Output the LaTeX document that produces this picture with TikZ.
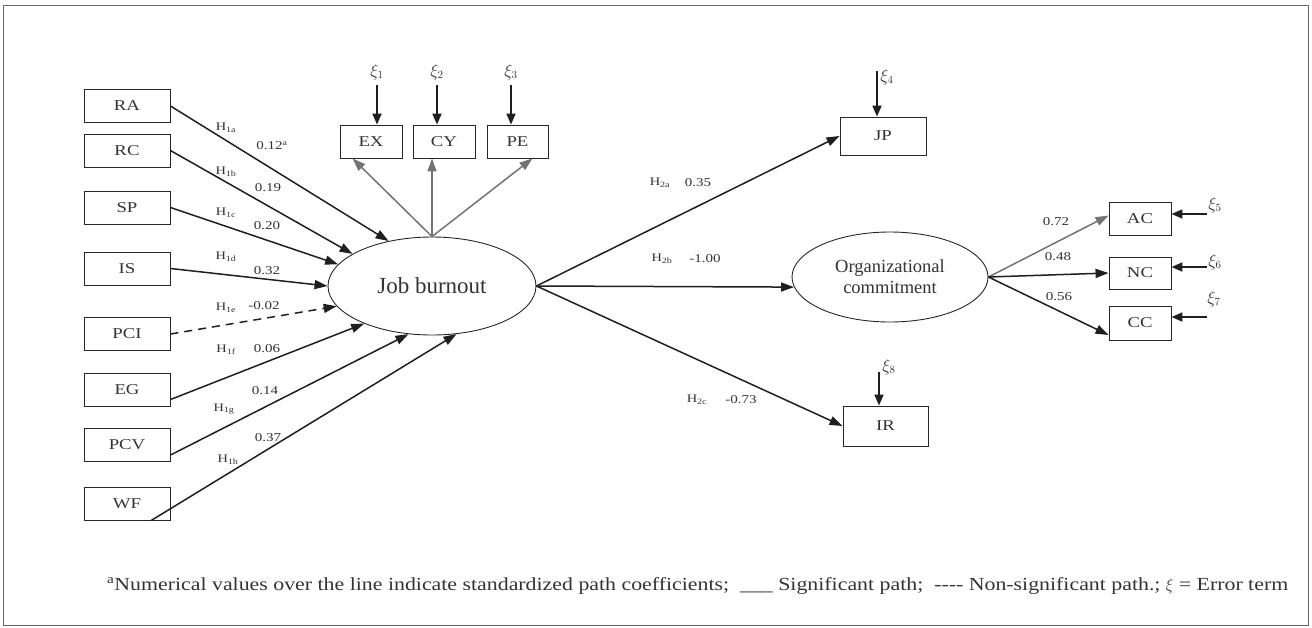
\documentclass[tikz,border=0pt]{standalone}
\usepackage{fontspec}
\setmainfont{Liberation Serif}[FakeStretch=1.25]
\newfontfamily\plainserif{Liberation Serif}
\usetikzlibrary{arrows.meta,shapes.geometric,calc}
\begin{document}
\begin{tikzpicture}[x=1pt,y=-1pt,
  every node/.style={inner sep=0pt, text=black!80},
  box/.style={draw=black!85, line width=0.9pt, minimum width=86pt, minimum height=33pt, font=\fontsize{15}{15}\selectfont},
  sbox/.style={box, minimum width=62pt},
  latent/.style={draw=black!85, line width=0.9pt, ellipse},
  arr/.style={line width=1.5pt, draw=black!88, -{Triangle[length=13pt,width=9pt]}},
  garr/.style={arr, draw=black!55},
  darr/.style={arr, dash pattern=on 8pt off 6pt},
  err/.style={line width=1.9pt, draw=black!88, -{Triangle[length=11pt,width=9pt]}},
  num/.style={font=\fontsize{12}{12}\selectfont},
  hyp/.style={font=\fontsize{11.5}{12}\selectfont},
  xil/.style={font=\fontsize{16}{16}\selectfont},
]
\useasboundingbox (0,0) rectangle (1312,627);
\draw[black!60, line width=0.8pt] (3,5) rectangle (1308,625);

% exogenous boxes
\node[box] (ra)  at (127,106)   {RA};
\node[box] (rc)  at (127,150.5) {RC};
\node[box] (sp)  at (127,207.5) {SP};
\node[box] (is)  at (127,268.5) {IS};
\node[box] (pci) at (127,334)   {PCI};
\node[box] (eg)  at (127,389.5) {EG};
\node[box] (pcv) at (127,445)   {PCV};
\node[box] (wf)  at (127,503.5) {WF};

% latent variables
\node[latent, minimum width=208pt, minimum height=98pt, font=\plainserif\fontsize{23}{23}\selectfont] (jb) at (432,286)
  {Job burnout};
\node[latent, minimum width=196pt, minimum height=90pt, align=center, font=\plainserif\fontsize{18.5}{21}\selectfont] (oc) at (890,277)
  {Organizational\\commitment};

% indicator boxes
\node[sbox] (ex) at (371,141.5) {EX};
\node[sbox] (cy) at (444,141.5) {CY};
\node[sbox, minimum width=61pt] (pe) at (517.5,141.5) {PE};
\node[box, minimum height=38pt] (jp) at (883,136) {JP};
\node[box, minimum width=85pt, minimum height=40pt] (ir) at (885.5,426) {IR};
\node[sbox] (ac) at (1140,218.5) {AC};
\node[sbox, minimum height=32pt] (nc) at (1140,273) {NC};
\node[sbox, minimum height=34pt] (cc) at (1140,323) {CC};

% paths into job burnout
\draw[arr] (ra.east) -- (jb.134);
\draw[arr] (rc.east) -- (jb.158);
\draw[arr] (sp.east) -- (jb.167);
\draw[arr] (is.east) -- (jb.180);
\draw[darr] (pci.east) -- (jb.192);
\draw[arr] (eg.-13) -- (jb.209);
\draw[arr] (pcv.-13) -- (jb.244);
\draw[arr] (wf.-35) -- (jb.297);

% measurement of job burnout
\draw[garr] (jb.north) -- ($(ex.south west)+(13,0)$);
\draw[garr] (jb.north) -- (jb.north |- cy.south);
\draw[garr] (jb.north) -- ($(pe.south east)+(-16,0)$);

% outcomes
\draw[arr] (jb.east) -- (jp.west);
\draw[arr] (jb.east) -- (oc.186);
\draw[arr] (jb.east) -- (ir.west);

% organizational commitment indicators
\draw[garr] (oc.east) -- ($(ac.west)+(0,-3)$);
\draw[arr] (oc.east) -- (nc.west);
\draw[arr] (oc.east) -- ($(cc.west)+(0,12)$);

% error terms
\coordinate (e1) at (377,85);
\coordinate (e2) at (437,85);
\coordinate (e3) at (511,85);
\coordinate (e4) at (877,71);
\coordinate (e8) at (879,372);
\coordinate (e5) at (1207,214);
\coordinate (e6) at (1207,267);
\coordinate (e7) at (1207,317);
\node[xil] (xi1) at (377,72) {$\xi_{1}$};
\node[xil] (xi2) at (437,72) {$\xi_{2}$};
\node[xil] (xi3) at (511,72) {$\xi_{3}$};
\node[xil] (xi4) at (887,77) {$\xi_{4}$};
\node[xil] (xi8) at (889,367) {$\xi_{8}$};
\node[xil] (xi5) at (1215,205) {$\xi_{5}$};
\node[xil] (xi6) at (1215,262) {$\xi_{6}$};
\node[xil] (xi7) at (1214,299) {$\xi_{7}$};
\draw[err] (e1) -- (e1 |- ex.north);
\draw[err] (e2) -- (e2 |- cy.north);
\draw[err] (e3) -- (e3 |- pe.north);
\draw[err] (e4) -- (e4 |- jp.north);
\draw[err] (e8) -- (e8 |- ir.north);
\draw[err] (e5) -- (e5 -| ac.east);
\draw[err] (e6) -- (e6 -| nc.east);
\draw[err] (e7) -- (e7 -| cc.east);

% path labels
\node[hyp] (h1a) at (226,128) {H\textsubscript{1a}};
\node[num] (c1a) at (272,146) {0.12\textsuperscript{a}};
\node[hyp] (h1b) at (226,172) {H\textsubscript{1b}};
\node[num] (c1b) at (268,188) {0.19};
\node[hyp] (h1c) at (226,213) {H\textsubscript{1c}};
\node[num] (c1c) at (267,226) {0.20};
\node[hyp] (h1d) at (226,257) {H\textsubscript{1d}};
\node[num] (c1d) at (267,271) {0.32};
\node[hyp] (h1e) at (226,308) {H\textsubscript{1e}};
\node[num] (c1e) at (264,306) {-0.02};
\node[hyp] (h1f) at (226,350) {H\textsubscript{1f}};
\node[num] (c1f) at (267,349) {0.06};
\node[num] (c1g) at (265,391) {0.14};
\node[hyp] (h1g) at (224,409) {H\textsubscript{1g}};
\node[num] (c1h) at (268,438) {0.37};
\node[hyp] (h1h) at (228,460) {H\textsubscript{1h}};
\node[hyp] (h2a) at (660,183) {H\textsubscript{2a}};
\node[num] (c2a) at (698,183) {0.35};
\node[hyp] (h2b) at (662,259) {H\textsubscript{2b}};
\node[num] (c2b) at (705,259) {-1.00};
\node[hyp] (h2c) at (697,400) {H\textsubscript{2c}};
\node[num] (c2c) at (741,400) {-0.73};
\node[num] (cac) at (1056,222) {0.72};
\node[num] (cnc) at (1058,257) {0.48};
\node[num] (ccc) at (1059,297) {0.56};

% footnote
\node[anchor=base west] (note) at (107,590) {\resizebox{1181pt}{13pt}{\fontsize{19}{19}\selectfont\textsuperscript{a}Numerical values over the line indicate standardized path coefficients;\ \ \_\_\_\ Significant path;\ \ {-}{-}{-}{-} Non-significant path.;\ $\xi$ = Error term}};
\end{tikzpicture}
\end{document}
